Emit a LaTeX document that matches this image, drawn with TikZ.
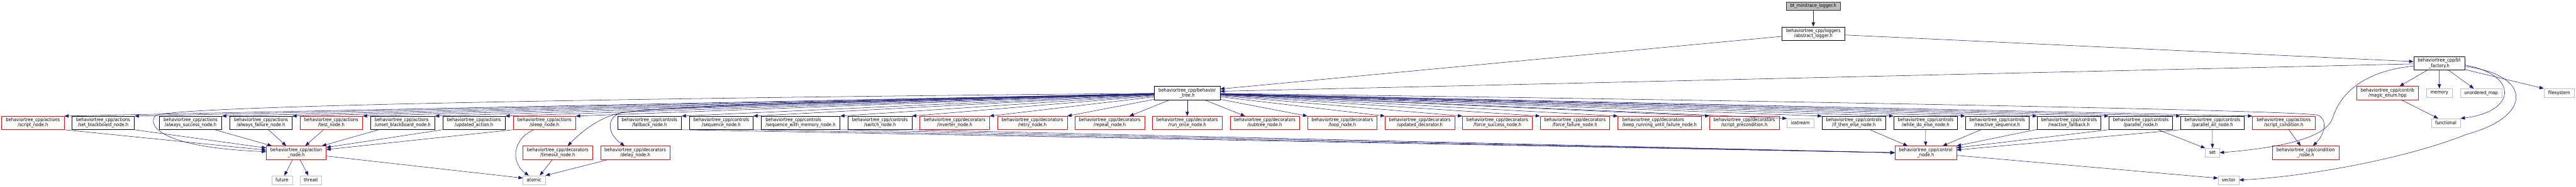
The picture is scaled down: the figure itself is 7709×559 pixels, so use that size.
\documentclass[tikz,border=0pt]{standalone}
\usepackage{fontspec}
\setmainfont{DejaVu Sans}[FakeStretch=0.88]
\usetikzlibrary{arrows.meta}
\definecolor{depblue}{HTML}{191970}
\definecolor{sysgrey}{HTML}{BFBFBF}

\begin{document}
\begin{tikzpicture}[x=1pt,y=-1pt,font=\fontsize{14.5}{12.8}\selectfont,
  nbox/.style={draw,line width=1pt,inner xsep=2pt,inner ysep=1pt,align=center,minimum height=40pt},
  hdr/.style={nbox,draw=black},
  trunc/.style={nbox,draw=red},
  sys/.style={nbox,draw=sysgrey,minimum height=26pt},
  curfile/.style={nbox,draw=black!80,fill=sysgrey,minimum height=26pt},
  dep/.style={color=depblue,line width=1pt,-{Triangle[length=13pt,width=10pt]}}]
\useasboundingbox (0,0) rectangle (7709,559);

\node[curfile,minimum width=163pt] (minitrace) at (5426.5,18.4) {bt\_minitrace\_logger.h};
\node[hdr,minimum width=187pt] (abslogger) at (5426.5,100.5) {behaviortree\_cpp/loggers\\/abstract\_logger.h};
\node[hdr,minimum width=153pt] (factory) at (7299.5,190) {behaviortree\_cpp/bt\\\_factory.h};
\node[hdr,minimum width=196pt] (btree) at (3553,279) {behaviortree\_cpp/behavior\\\_tree.h};
\node[trunc,minimum width=184.5pt] (magicenum) at (7145,279) {behaviortree\_cpp/contrib\\/magic\_enum.hpp};
\node[sys,minimum width=78pt] (memory) at (7300,279) {memory};
\node[sys,minimum width=124pt] (unordmap) at (7425,279) {unordered\_map};
\node[sys,minimum width=91pt] (filesystem) at (7658.5,279) {filesystem};

\node[trunc,minimum width=187pt] (scriptnode) at (98.5,368.6) {behaviortree\_cpp/actions\\/script\_node.h};
\node[hdr,minimum width=186.4pt] (setbb) at (308.8,368.6) {behaviortree\_cpp/actions\\/set\_blackboard\_node.h};
\node[hdr,minimum width=186.6pt] (alwayssucc) at (570.3,368.6) {behaviortree\_cpp/actions\\/always\_success\_node.h};
\node[hdr,minimum width=186.3pt] (alwaysfail) at (780.9,368.6) {behaviortree\_cpp/actions\\/always\_failure\_node.h};
\node[trunc,minimum width=187pt] (testnode) at (991.5,368.6) {behaviortree\_cpp/actions\\/test\_node.h};
\node[hdr,minimum width=192pt,align=left] (unsetbb) at (1205,368.6) {behaviortree\_cpp/actions\\/unset\_blackboard\_node.h};
\node[hdr,minimum width=187pt] (updaction) at (1418.3,368.6) {behaviortree\_cpp/actions\\/updated\_action.h};
\node[trunc,minimum width=187pt] (sleepnode) at (1629.3,368.6) {behaviortree\_cpp/actions\\/sleep\_node.h};
\node[hdr,minimum width=191.4pt] (fallback) at (1943.7,368.6) {behaviortree\_cpp/controls\\/fallback\_node.h};
\node[hdr,minimum width=190.7pt] (sequence) at (2158.4,368.6) {behaviortree\_cpp/controls\\/sequence\_node.h};
\node[hdr,minimum width=236pt,align=left] (seqmem) at (2395.8,368.6) {behaviortree\_cpp/controls\\/sequence\_with\_memory\_node.h};
\node[hdr,minimum width=191pt] (switchnode) at (2633.2,368.6) {behaviortree\_cpp/controls\\/switch\_node.h};
\node[trunc,minimum width=208pt] (inverter) at (2857,368.6) {behaviortree\_cpp/decorators\\/inverter\_node.h};
\node[trunc,minimum width=208.5pt] (retry) at (3089.3,368.6) {behaviortree\_cpp/decorators\\/retry\_node.h};
\node[trunc,minimum width=208pt] (repeatnode) at (3321,368.6) {behaviortree\_cpp/decorators\\/repeat\_node.h};
\node[trunc,minimum width=208pt] (runonce) at (3553,368.6) {behaviortree\_cpp/decorators\\/run\_once\_node.h};
\node[trunc,minimum width=208pt] (subtree) at (3785,368.6) {behaviortree\_cpp/decorators\\/subtree\_node.h};
\node[trunc,minimum width=208pt] (loopnode) at (4017,368.6) {behaviortree\_cpp/decorators\\/loop\_node.h};
\node[trunc,minimum width=208pt] (upddeco) at (4249,368.6) {behaviortree\_cpp/decorators\\/updated\_decorator.h};
\node[trunc,minimum width=208.7pt] (forcesucc) at (4481,368.6) {behaviortree\_cpp/decorators\\/force\_success\_node.h};
\node[trunc,minimum width=208pt] (forcefail) at (4713,368.6) {behaviortree\_cpp/decorators\\/force\_failure\_node.h};
\node[trunc,minimum width=249pt,align=left] (keeprun) at (4966.5,368.6) {behaviortree\_cpp/decorators\\/keep\_running\_until\_failure\_node.h};
\node[trunc,minimum width=208pt] (scriptpre) at (5220,368.6) {behaviortree\_cpp/decorators\\/script\_precondition.h};
\node[sys,minimum width=80pt] (iostream) at (5388,368.7) {iostream};
\node[hdr,minimum width=190pt] (ifthen) at (5548,368.6) {behaviortree\_cpp/controls\\/if\_then\_else\_node.h};
\node[hdr,minimum width=191pt] (whiledo) at (5762.5,368.6) {behaviortree\_cpp/controls\\/while\_do\_else\_node.h};
\node[hdr,minimum width=191pt] (reactseq) at (5977,368.6) {behaviortree\_cpp/controls\\/reactive\_sequence.h};
\node[hdr,minimum width=190.4pt] (reactfb) at (6191.8,368.6) {behaviortree\_cpp/controls\\/reactive\_fallback.h};
\node[hdr,minimum width=191pt] (parallel) at (6406.5,368.6) {behaviortree\_cpp/controls\\/parallel\_node.h};
\node[hdr,minimum width=190.4pt] (parallelall) at (6620.8,368.6) {behaviortree\_cpp/controls\\/parallel\_all\_node.h};
\node[trunc,minimum width=187pt] (scriptcond) at (6834.3,368.6) {behaviortree\_cpp/actions\\/script\_condition.h};
\node[sys,minimum width=87pt] (functional) at (7319.5,368.7) {functional};

\node[trunc,minimum width=179pt] (actionnode) at (886.5,458) {behaviortree\_cpp/action\\\_node.h};
\node[trunc,minimum width=208pt] (timeout) at (1669,458) {behaviortree\_cpp/decorators\\/timeout\_node.h};
\node[trunc,minimum width=208pt] (delay) at (1901,458) {behaviortree\_cpp/decorators\\/delay\_node.h};
\node[trunc,minimum width=184.4pt] (controlnode) at (5762.8,458) {behaviortree\_cpp/control\\\_node.h};
\node[sys,minimum width=42.5pt] (setlib) at (6621,458) {set};
\node[trunc,minimum width=199pt] (condnode) at (6900,458) {behaviortree\_cpp/condition\\\_node.h};

\node[sys,minimum width=61.7pt] (future) at (843.9,540) {future};
\node[sys,minimum width=64.5pt] (thread) at (930,540) {thread};
\node[sys,minimum width=67pt] (atomic) at (1598.5,540) {atomic};
\node[sys,minimum width=62.6pt] (vector) at (6669.3,540) {vector};

\draw[dep] (minitrace) -- (abslogger);
\draw[dep] (abslogger) -- (btree.7);
\draw[dep] (abslogger) -- (factory.176);
\draw[dep] (factory) -- (btree.3);
\draw[dep] (factory) -- ([xshift=36pt]magicenum.north);
\draw[dep] (factory) -- (memory);
\draw[dep] (factory) -- ([xshift=-22pt]unordmap.north);
\draw[dep] (factory) -- (filesystem.north west);
\draw[dep] (magicenum) -- ([xshift=-23pt]functional.north);
\draw[dep] ([yshift=-5pt]factory.east) .. controls (7540,225) and (7530,335) .. (functional.north east);
\draw[dep] ([yshift=-9pt]factory.east) .. controls (7580,225) and (7580,350) .. (7381,403)
  .. controls (7200,476) and (6900,530) .. (vector.east);
\draw[dep] ([yshift=-8pt]factory.west) .. controls (7060,215) and (7000,290) .. (6980,356)
  .. controls (6955,420) and (6800,445) .. (setlib.east);

\foreach \n in {scriptnode,setbb,alwayssucc,alwaysfail,testnode,unsetbb,updaction,sleepnode,
  fallback,sequence,seqmem,switchnode,inverter,retry}
  \draw[dep] (btree) -- (\n.north east);
\foreach \n in {loopnode,upddeco,forcesucc,forcefail,keeprun,scriptpre,iostream,
  ifthen,whiledo,reactseq,reactfb,parallel,parallelall,scriptcond}
  \draw[dep] (btree) -- (\n.north west);
\draw[dep] ([xshift=-52pt]btree.south) -- ([xshift=59pt]repeatnode.north);
\draw[dep] (btree) -- (runonce);
\draw[dep] ([xshift=51pt]btree.south) -- ([xshift=-59pt]subtree.north);
\draw[dep] (btree) .. controls (1800,295) and (560,318) .. (470,345)
  .. controls (445,355) and (430,440) .. (actionnode.178);
\draw[dep] (btree) .. controls (2600,300) and (2000,315) .. (1850,340)
  .. controls (1790,355) and (1740,395) .. ([xshift=30pt]timeout.north);
\draw[dep] (btree) .. controls (2600,305) and (2000,318) .. (1860,338)
  .. controls (1815,350) and (1815,400) .. ([xshift=-32pt]delay.north);
\draw[dep] (btree) .. controls (5200,300) and (6850,330) .. (6935,345)
  .. controls (6965,355) and (6960,400) .. ([xshift=22pt]condnode.north);

\draw[dep] (scriptnode.south east) -- (actionnode.175);
\draw[dep] (setbb.south east) -- (actionnode.171);
\draw[dep] (alwayssucc) -- ([xshift=17pt]actionnode.north west);
\draw[dep] (alwaysfail) -- ([xshift=60pt]actionnode.north west);
\draw[dep] (testnode) -- ([xshift=27pt]actionnode.north);
\draw[dep] (unsetbb) -- ([xshift=-13pt]actionnode.north east);
\draw[dep] (updaction.south west) -- (actionnode.10);
\draw[dep] (sleepnode.south west) -- (actionnode.6);

\foreach \n in {fallback,sequence,seqmem,switchnode}
  \draw[dep] (\n.south east) -- (controlnode.west);
\draw[dep] (ifthen) -- ([xshift=-54pt]controlnode.north);
\draw[dep] (whiledo) -- (controlnode);
\draw[dep] (reactseq) -- ([xshift=51pt]controlnode.north);
\draw[dep] (reactfb) -- (controlnode.north east);
\draw[dep] (parallel.south west) -- (controlnode.9);
\draw[dep] (parallelall.south west) -- (controlnode.5);

\draw[dep] (parallel) -- (setlib.north west);
\draw[dep] (parallelall) -- (setlib);
\draw[dep] (scriptcond) -- ([xshift=-15pt]condnode.north);

\draw[dep] (actionnode) -- (future);
\draw[dep] (actionnode) -- (thread);
\draw[dep] (actionnode) -- (atomic.170);
\draw[dep] ([xshift=-32pt]sleepnode.south) .. controls (1530,420) and (1530,490) .. ([xshift=-16pt]atomic.north);
\draw[dep] (timeout) -- ([xshift=17pt]atomic.north);
\draw[dep] (delay) -- (atomic.north east);
\draw[dep] (controlnode) -- (vector.170);
\end{tikzpicture}
\end{document}
